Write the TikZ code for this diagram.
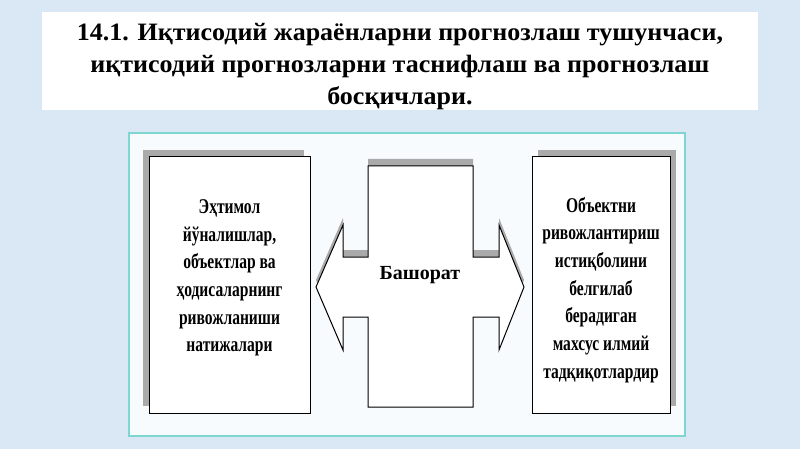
\documentclass[tikz,border=0pt]{standalone}
\usepackage{fontspec}
\setmainfont{Liberation Serif}
\newfontfamily\narrowfont[FakeStretch=0.74]{Liberation Serif}
\newfontfamily\widefont[FakeStretch=1.04]{Liberation Serif}
\usetikzlibrary{positioning}
\definecolor{slidebg}{RGB}{218,232,245}
\definecolor{panelline}{RGB}{125,214,208}
\definecolor{panelfill}{RGB}{247,251,253}
\definecolor{boxshade}{RGB}{170,170,170}

\begin{document}
\begin{tikzpicture}[x=1pt,y=-1pt, side box/.style={draw=black,line width=1pt,fill=white,minimum height=256pt,inner sep=0pt}, box text/.style={align=center,inner sep=0pt,font=\narrowfont\bfseries\fontsize{21}{27.7}\selectfont}]

				\fill[slidebg] (0,0) rectangle (800,449);
				\useasboundingbox (0,0) rectangle (800,449);

				\node[fill=white,minimum width=716pt,minimum height=98pt] (title) at (400,61) {};
				\node[align=center,font=\widefont\bfseries\fontsize{25}{32}\selectfont] (heading) at (400,67) {14.1. Иқтисодий жараёнларни прогнозлаш тушунчаси,\\иқтисодий прогнозларни таснифлаш ва прогнозлаш\\босқичлари.};

				\draw[panelline,line width=1.5pt,fill=panelfill] (129,133) rectangle (685,436);

				\fill[boxshade] (143,150) rectangle (304,406);
				\fill[boxshade] (538,150) rectangle (676,406);
				\fill[boxshade] (368,159) -- (473,159) -- (473,250) -- (499,250) -- (499,218) -- (524,280) -- (499,343) -- (499,310) -- (473,310) -- (473,400) -- (368,400) -- (368,310) -- (343,310) -- (343,343) -- (316,280) -- (343,218) -- (343,250) -- (368,250) -- cycle;

				\node[side box,minimum width=161pt] (left) at (229.5,285) {};
				\node[side box,minimum width=138pt] (right) at (601,285) {};
				\node[box text] (lefttext) at (229.5,278) {Эҳтимол\\йўналишлар,\\объектлар ва\\ҳодисаларнинг\\ривожланиши\\натижалари};
				\node[box text] (righttext) at (601,290) {Объектни\\ривожлантириш\\истиқболини\\белгилаб\\берадиган\\махсус илмий\\тадқиқотлардир};

				\draw[line width=1pt,fill=white] (368,166) -- (473,166) -- (473,257) -- (499,257) -- (499,225) -- (524,287) -- (499,350) -- (499,317) -- (473,317) -- (473,407) -- (368,407) -- (368,317) -- (343,317) -- (343,350) -- (316,287) -- (343,225) -- (343,257) -- (368,257) -- cycle;
				\node[font=\bfseries\fontsize{20}{24}\selectfont] (forecast) at (420,275) {Башорат};
			\end{tikzpicture}
\end{document}
